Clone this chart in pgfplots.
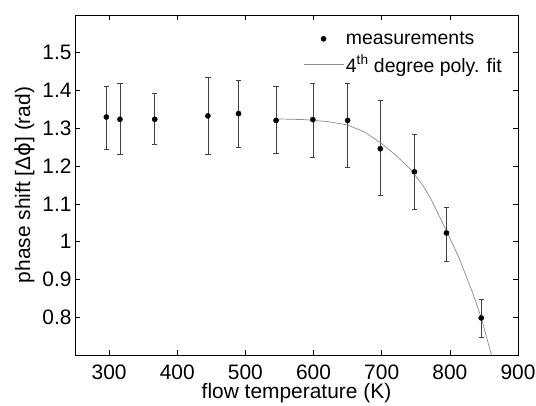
\documentclass[border=0pt]{standalone}
\usepackage{fontspec}
\setmainfont{Liberation Sans}
\newfontfamily\dejavu{DejaVu Sans}
\usepackage{pgfplots}
\pgfplotsset{compat=1.18}

\newcommand{\chartfont}{\fontsize{21}{24}\selectfont}
\newcommand{\legendfont}{\fontsize{19.5}{22}\selectfont}
\pgfplotsset{
  longline/.style={legend image code/.code={\draw[#1] (0bp,0bp) -- (40bp,0bp);}},
  markimg/.style={legend image code/.code={\draw[mark repeat=2, mark phase=2, #1]
    plot coordinates {(0bp,0bp) (20bp,0bp) (40bp,0bp)};}},
}

\begin{document}
\begin{tikzpicture}
\begin{axis}[
  scale only axis,
  width=443bp, height=340bp,
  xmin=250, xmax=900, ymin=0.7, ymax=1.6,
  xtick={300,400,...,900},
  ytick={0.8,0.9,...,1.51},
  tick align=inside,
  major tick length=5bp,
  axis line style={line width=0.8pt},
  every tick/.style={black, line width=0.6pt},
  /pgf/number format/assume math mode=true,
  tick label style={font=\chartfont},
  xticklabel style={yshift=-6bp},
  label style={font=\chartfont},
  xlabel={flow temperature (K)},
  ylabel={phase shift [Δ{\dejavu ϕ}] (rad)},
  xlabel style={yshift=3bp},
  ylabel style={yshift=1bp},
  legend style={draw=none, fill=none, font=\legendfont,
    at={(0.508,0.963)}, anchor=north west, row sep=5bp},
  legend cell align=left,
]
\addplot[only marks, mark=*, mark size=2.6bp, black, markimg,
  error bars/.cd, y dir=both, y explicit,
  error bar style={black!75, line width=0.7pt},
  error mark options={black!75, line width=0.7pt, mark size=2.6bp, rotate=90},
  ] table[x=x, y=y, y error plus=ep, y error minus=em] {
x   y     ep    em
296 1.330 0.080 0.085
316 1.324 0.094 0.094
367 1.324 0.068 0.067
445 1.333 0.103 0.103
490 1.339 0.087 0.089
545 1.321 0.090 0.088
599 1.323 0.097 0.101
650 1.321 0.099 0.123
698 1.246 0.128 0.124
748 1.185 0.099 0.100
795 1.023 0.069 0.075
846 0.798 0.048 0.050
};
\addlegendentry{measurements}
\addplot[no marks, black!45, line width=0.7pt, longline]
  coordinates {
(545,1.325) (587,1.323) (620,1.318) (650,1.309) (675,1.290)
(698,1.262) (720,1.230) (742,1.192) (760,1.150) (772,1.114)
(797,1.021) (814,0.955) (834,0.862) (846,0.799) (861,0.700)
};
\addlegendentry{4\textsuperscript{th} degree poly. fit}
\end{axis}
\pgfresetboundingbox
\path ([shift={(-75bp,-51bp)}]current axis.south west)
  rectangle ([shift={(18bp,15bp)}]current axis.north east);
\end{tikzpicture}
\end{document}
